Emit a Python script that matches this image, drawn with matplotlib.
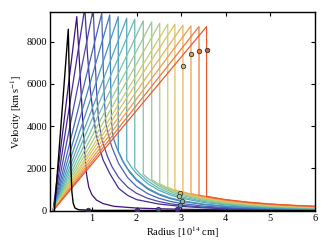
import matplotlib
matplotlib.use("Agg")
import matplotlib.pyplot as plt
from matplotlib.colors import LinearSegmentedColormap

plt.rcParams['font.family'] = 'serif'
plt.rcParams['font.serif'] = ['Liberation Serif', 'DejaVu Serif']
plt.rcParams['mathtext.fontset'] = 'stix'

# inner edge where every profile starts (radius, velocity)
START_R = 0.13

# initial profile (black)
BLACK_R = [0.16, 0.47, 0.49, 0.51, 0.53, 0.55, 0.58, 0.62, 0.70, 1.0, 6.0]
BLACK_V = [0, 8585, 6500, 4000, 2000, 900, 350, 120, 40, 10, 0]

# peak of each later profile
PEAK_R = [0.66, 0.84, 1.03, 1.22, 1.40, 1.59, 1.78, 1.96, 2.15,
          2.34, 2.52, 2.70, 2.86, 3.04, 3.22, 3.40, 3.57]
PEAK_V = [9180, 9600, 9550, 9340, 9260, 9180, 9105, 9060, 8980,
          8930, 8870, 8820, 8820, 8775, 8740, 8710, 8710]

# behind the peak: shock drop and outer tail of each profile
TAIL_R = [
    [0.71, 0.76, 0.80, 0.84, 0.88, 0.93, 1.00, 1.10, 1.25, 1.5, 2.0, 2.5, 3.0, 4.0, 5.0, 6.0],
    [0.90, 0.96, 1.02, 1.08, 1.15, 1.25, 1.40, 1.60, 1.80, 2.0, 2.5, 3.0, 3.5, 4.0, 5.0, 6.0],
    [1.07, 1.11, 1.15, 1.20, 1.27, 1.35, 1.45, 1.6, 1.8, 2.0, 2.25, 2.5, 2.75, 3.0, 3.5, 4.0, 5.0, 6.0],
    [1.25, 1.28, 1.31, 1.35, 1.45, 1.6, 1.8, 2.0, 2.25, 2.5, 2.75, 3.0, 3.5, 4.0, 4.5, 5.0, 5.5, 6.0],
    [1.42, 1.44, 1.47, 1.55, 1.7, 1.85, 2.0, 2.25, 2.5, 2.75, 3.0, 3.5, 4.0, 4.5, 5.0, 5.5, 6.0],
    [1.59, 1.69, 1.8, 2.0, 2.25, 2.5, 2.75, 3.0, 3.5, 4.0, 4.5, 5.0, 5.5, 6.0],
    [1.78, 1.88, 2.0, 2.25, 2.5, 2.75, 3.0, 3.5, 4.0, 4.5, 5.0, 5.5, 6.0],
    [1.96, 2.06, 2.25, 2.5, 2.75, 3.0, 3.5, 4.0, 4.5, 5.0, 5.5, 6.0],
    [2.15, 2.25, 2.5, 2.75, 3.0, 3.5, 4.0, 4.5, 5.0, 5.5, 6.0],
    [2.34, 2.44, 2.5, 2.75, 3.0, 3.5, 4.0, 4.5, 5.0, 5.5, 6.0],
    [2.52, 2.62, 2.75, 3.0, 3.5, 4.0, 4.5, 5.0, 5.5, 6.0],
    [2.70, 2.80, 3.0, 3.5, 4.0, 4.5, 5.0, 5.5, 6.0],
    [2.86, 2.96, 3.0, 3.5, 4.0, 4.5, 5.0, 5.5, 6.0],
    [3.04, 3.15, 3.5, 4.0, 4.5, 5.0, 5.5, 6.0],
    [3.22, 3.32, 3.5, 4.0, 4.5, 5.0, 5.5, 6.0],
    [3.40, 3.5, 4.0, 4.5, 5.0, 5.5, 6.0],
    [3.57, 3.67, 4.0, 4.5, 5.0, 5.5, 6.0],
]
TAIL_V = [
    [7400, 5500, 4000, 2700, 1700, 1100, 750, 500, 330, 200, 120, 85, 65, 35, 20, 12],
    [7400, 5800, 4700, 3800, 3100, 2400, 1750, 1050, 720, 520, 310, 200, 130, 90, 50, 28],
    [7200, 5400, 4300, 3600, 3050, 2555, 2076, 1561, 1109, 817, 581, 428, 325, 252, 161, 109, 57, 34],
    [7000, 5200, 4200, 3700, 2985, 2222, 1561, 1138, 799, 583, 438, 337, 212, 142, 100, 73, 55, 42],
    [6000, 4200, 3500, 3001, 2296, 1797, 1434, 1019, 750, 569, 442, 283, 192, 137, 101, 76, 59],
    [2800, 2360, 1978, 1473, 1059, 788, 604, 473, 307, 211, 152, 113, 87, 68],
    [2400, 2070, 1752, 1275, 959, 742, 587, 387, 270, 196, 148, 114, 90],
    [2020, 1770, 1401, 1060, 823, 654, 435, 305, 223, 169, 131, 104],
    [1720, 1529, 1162, 907, 723, 485, 342, 252, 192, 150, 119],
    [1470, 1321, 1242, 974, 780, 527, 375, 277, 212, 166, 133],
    [1270, 1152, 1021, 821, 559, 400, 298, 229, 180, 145],
    [1110, 1016, 858, 588, 424, 318, 245, 194, 157],
    [990, 912, 883, 610, 443, 334, 259, 206, 167],
    [890, 819, 639, 467, 354, 277, 221, 180],
    [810, 755, 669, 492, 375, 294, 236, 194],
    [735, 687, 506, 386, 303, 243, 199],
    [676, 634, 520, 397, 311, 250, 205],
]

# dots marked on some profiles: (curve index, radius, velocity)
MARK_IDX = [13, 14, 15, 16, 12, 10, 8, 5, 2, 1, 1, 0]
MARK_R = [3.05, 3.23, 3.40, 3.57, 2.97, 2.95, 3.01, 2.98, 2.48, 2.0, 2.9, 0.92]
MARK_V = [6865, 7418, 7560, 7607, 836, 676, 440, 283, 80, 47, 80, 20]

cmap = LinearSegmentedColormap.from_list(
    "prof", ['#3f0f7f', '#4a52b0', '#3f8cc4', '#62b8b6', '#9ccb88',
             '#d6cc68', '#f2a850', '#e85a30'])
n = len(PEAK_R)
colors = [cmap(i / (n - 1)) for i in range(n)]

fig = plt.figure(figsize=(3.32, 2.49), dpi=100)
ax = fig.add_axes([0.1506, 0.1526, 0.7982, 0.7992])

ax.plot(BLACK_R, BLACK_V, color='black', lw=1.0, zorder=3)
for i in range(n):
    rr = [START_R, PEAK_R[i]] + TAIL_R[i]
    vv = [0, PEAK_V[i]] + TAIL_V[i]
    if TAIL_R[i][0] == PEAK_R[i]:
        pass
    ax.plot(rr, vv, color=colors[i], lw=0.9, zorder=2)

for k, r, v in zip(MARK_IDX, MARK_R, MARK_V):
    ax.plot(r, v, 'o', ms=3.2, mfc=colors[k], mec='#333333', mew=0.6, zorder=4)

ax.set_xlim(0.06, 6)
ax.set_ylim(-20, 9400)
ax.set_xticks([1, 2, 3, 4, 5, 6])
ax.set_yticks([0, 2000, 4000, 6000, 8000])
ax.tick_params(direction='in', top=True, right=True, length=3, width=0.8,
               labelsize=7.5, pad=2)
for s in ax.spines.values():
    s.set_linewidth(1.0)
ax.set_xlabel(r'Radius [10$^{14}$ cm]', fontsize=7.5, labelpad=1)
ax.set_ylabel(r'Velocity [km$\,$s$^{-1}$]', fontsize=7.5, labelpad=2)

fig.savefig('out.png', dpi=100)
